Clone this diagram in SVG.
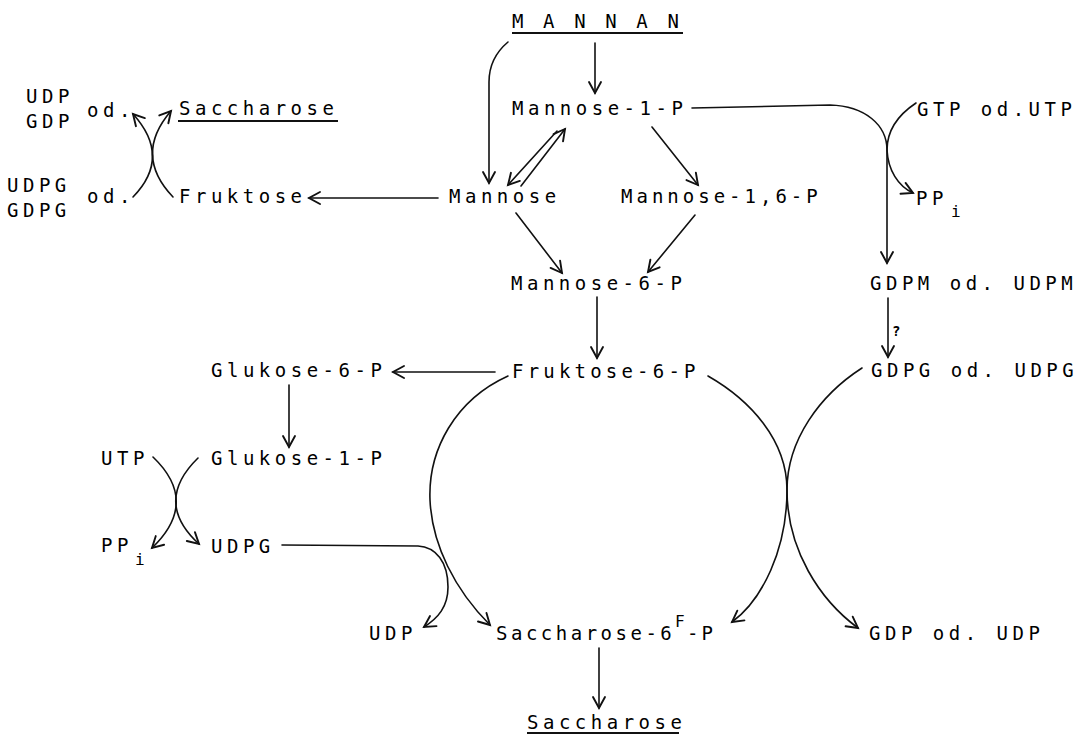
<svg xmlns="http://www.w3.org/2000/svg" width="1078" height="735" viewBox="0 0 1078 735">
<defs>
<style>
text{font-family:"DejaVu Sans Mono","Liberation Mono",monospace;font-size:19px;letter-spacing:4.5px;fill:#000}
.sub{font-size:16px;letter-spacing:0}
.c{fill:none;stroke:#111;stroke-width:1.6;stroke-linecap:round}
.a{marker-end:url(#ah)}
.ul{stroke:#111;stroke-width:1.8}
</style>
<marker id="ah" markerUnits="userSpaceOnUse" markerWidth="20" markerHeight="20" viewBox="-12 -10 14 20" refX="0" refY="0" orient="auto">
<path d="M-11,-6 L0,0 L-11,6" fill="none" stroke="#111" stroke-width="1.9" stroke-linecap="round" stroke-linejoin="miter"/>
</marker>
</defs>
<rect width="1078" height="735" fill="#fff"/>

<g id="connectors">
<path class="c a" d="M595,43 L595,93"/>
<path class="c a" d="M508,42 Q489,58 489,82 L489,183"/>
<path class="c a" d="M521,186 L565,129"/>
<path class="c a" d="M557,131 L508,185"/>
<path class="c a" d="M652,127 L698,185"/>
<path class="c a" d="M516,213 L562,273"/>
<path class="c a" d="M695,215 L648,272"/>
<path class="c a" d="M597,297 L597,358"/>
<path class="c a" d="M438,198 L309,198"/>
<path class="c a" d="M133,197 Q172,157 133,114"/>
<path class="c a" d="M173,197 Q133,155 171,111"/>
<path class="c a" d="M495,372 L393,372"/>
<path class="c a" d="M289,385 L289,447"/>
<path class="c a" d="M153,457 Q200,502 152,548"/>
<path class="c a" d="M198,458 Q153,502 199,544"/>
<path class="c a" d="M692,108 L830,105 C865,106 887,125 887,150 L887,263"/>
<path class="c a" d="M916,103 C898,115 887,130 887,150 C888,170 898,186 913,193"/>
<path class="c a" d="M888,298 L888,357"/>
<path class="c a" d="M508,376 C455,400 428,450 430,500 C432,545 455,590 490,625"/>
<path class="c a" d="M282,545 L418,546 C436,547 448,562 448,587 C448,607 438,618 424,627"/>
<path class="c a" d="M708,376 C750,400 787,440 787,490 C787,550 820,600 858,628"/>
<path class="c a" d="M862,368 C820,395 787,440 787,490 C787,550 762,600 732,622"/>
<path class="c a" d="M599,648 L599,708"/>
</g>

<g id="n-mannan"><text x="512" y="28" style="letter-spacing:4.1px">M A N N A N</text><line class="ul" x1="512" y1="33" x2="683" y2="33"/></g>
<g id="n-mannose1p"><text x="512" y="115">Mannose-1-P</text></g>
<g id="n-mannose"><text x="449" y="203">Mannose</text></g>
<g id="n-mannose16p"><text x="621" y="203" style="letter-spacing:4px">Mannose-1,6-P</text></g>
<g id="n-mannose6p"><text x="511" y="290">Mannose-6-P</text></g>
<g id="n-fruktose6p"><text x="512" y="378" style="letter-spacing:4.2px">Fruktose-6-P</text></g>
<g id="n-fruktose"><text x="179" y="203">Fruktose</text></g>
<g id="n-saccharose-top"><text x="179" y="115">Saccharose</text><line class="ul" x1="178" y1="121" x2="338" y2="121"/></g>
<g id="n-udp-gdp"><text x="26" y="103">UDP</text><text x="26" y="128">GDP</text><text x="87" y="117">od.</text></g>
<g id="n-udpg-gdpg"><text x="7" y="192">UDPG</text><text x="7" y="217">GDPG</text><text x="87" y="203">od.</text></g>
<g id="n-glukose6p"><text x="211" y="377">Glukose-6-P</text></g>
<g id="n-glukose1p"><text x="211" y="465">Glukose-1-P</text></g>
<g id="n-utp"><text x="101" y="465">UTP</text></g>
<g id="n-ppi-left"><text x="101" y="552">PP</text><text class="sub" x="135" y="565">i</text></g>
<g id="n-udpg"><text x="211" y="553">UDPG</text></g>
<g id="n-gtp"><text x="917" y="116">GTP od.UTP</text></g>
<g id="n-ppi-right"><text x="916" y="205">PP</text><text class="sub" x="951" y="217">i</text></g>
<g id="n-gdpm"><text x="870" y="290">GDPM od. UDPM</text></g>
<g id="n-q"><text class="sub" x="892" y="336" style="font-weight:bold;font-size:14px">?</text></g>
<g id="n-gdpg"><text x="871" y="377">GDPG od. UDPG</text></g>
<g id="n-udp"><text x="369" y="640">UDP</text></g>
<g id="n-saccharose6fp"><text x="496" y="640" style="letter-spacing:3.5px">Saccharose-6</text><text class="sub" x="675" y="627">F</text><text x="687" y="640" style="letter-spacing:3px">-P</text></g>
<g id="n-gdp-udp"><text x="869" y="640">GDP od. UDP</text></g>
<g id="n-saccharose-bottom"><text x="527" y="729">Saccharose</text><line class="ul" x1="527" y1="733" x2="679" y2="733"/></g>
</svg>
